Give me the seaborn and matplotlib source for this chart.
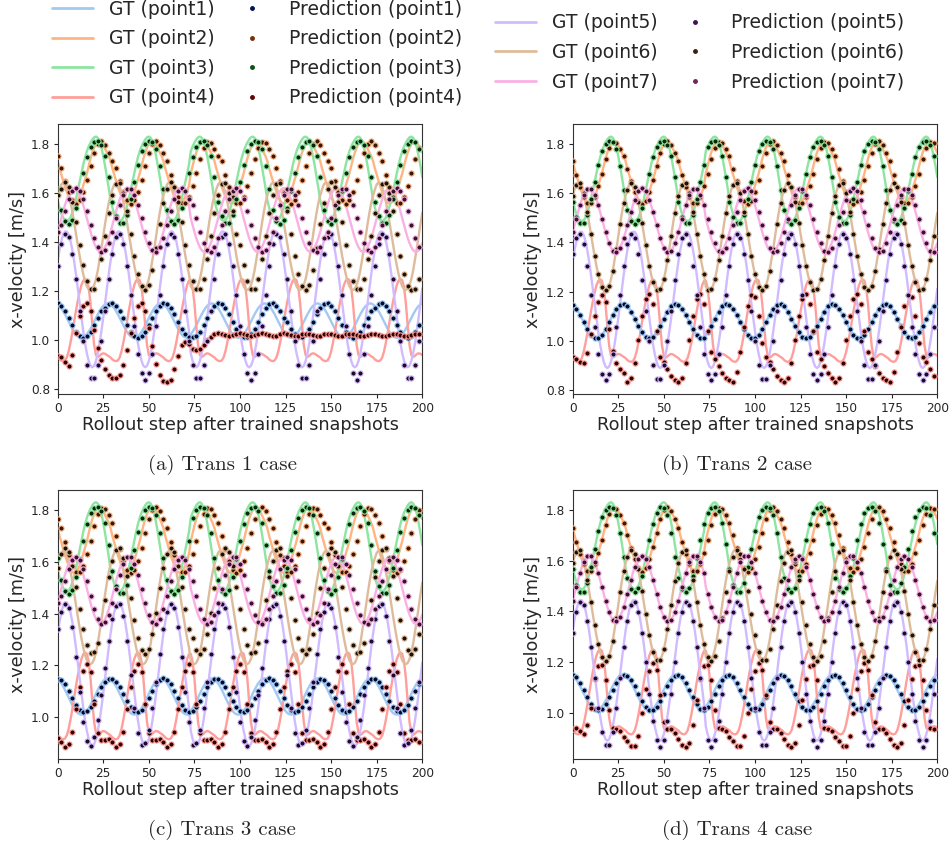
import numpy as np
import pandas as pd
import matplotlib
matplotlib.use("Agg")
import matplotlib.pyplot as plt
import seaborn as sns
from matplotlib.lines import Line2D

# ---------------- data ----------------
series_names = ["point1", "point2", "point3", "point4", "point5", "point6", "point7"]
x_ticks = [0, 25, 50, 75, 100, 125, 150, 175, 200]
panel_captions = ["(a) Trans 1 case", "(b) Trans 2 case", "(c) Trans 3 case", "(d) Trans 4 case"]
x_label = "Rollout step after trained snapshots"
y_label = "x-velocity [m/s]"

# one vortex-shedding cycle of the ground truth (value at each step of the cycle)
gt_period = 28.8
gt_point1 = [1.146, 1.140, 1.131, 1.119, 1.106, 1.091, 1.076, 1.061, 1.047, 1.035, 1.024, 1.016, 1.012, 1.010,
             1.012, 1.016, 1.024, 1.035, 1.047, 1.061, 1.076, 1.091, 1.106, 1.119, 1.131, 1.140, 1.146, 1.150, 1.150]
gt_point2 = [1.73, 1.70, 1.675, 1.65, 1.625, 1.605, 1.585, 1.57, 1.56, 1.557, 1.56, 1.57, 1.585, 1.605, 1.63,
             1.655, 1.68, 1.71, 1.74, 1.765, 1.785, 1.80, 1.808, 1.81, 1.805, 1.795, 1.78, 1.765, 1.75]
gt_point3 = [1.57, 1.54, 1.515, 1.50, 1.49, 1.487, 1.49, 1.50, 1.52, 1.545, 1.575, 1.61, 1.645, 1.68, 1.715,
             1.745, 1.77, 1.79, 1.805, 1.818, 1.827, 1.83, 1.825, 1.81, 1.785, 1.75, 1.71, 1.665, 1.62]
gt_point4 = [0.93, 0.922, 0.917, 0.915, 0.918, 0.93, 0.955, 0.99, 1.03, 1.075, 1.12, 1.16, 1.195, 1.225, 1.243,
             1.25, 1.245, 1.215, 1.15, 1.06, 0.98, 0.94, 0.932, 0.937, 0.944, 0.947, 0.945, 0.94, 0.935]
gt_point5 = [1.323, 1.369, 1.405, 1.431, 1.443, 1.443, 1.431, 1.405, 1.369, 1.323, 1.270, 1.212, 1.153, 1.093,
             1.038, 0.988, 0.947, 0.916, 0.896, 0.890, 0.896, 0.916, 0.947, 0.988, 1.038, 1.093, 1.153, 1.212, 1.270]
gt_point6 = [1.59, 1.615, 1.635, 1.643, 1.64, 1.625, 1.60, 1.565, 1.525, 1.48, 1.435, 1.39, 1.345, 1.305, 1.27,
             1.24, 1.22, 1.208, 1.205, 1.21, 1.225, 1.25, 1.285, 1.33, 1.375, 1.425, 1.475, 1.52, 1.56]
gt_point7 = [1.442, 1.469, 1.497, 1.525, 1.551, 1.574, 1.593, 1.608, 1.617, 1.62, 1.617, 1.608, 1.593, 1.574,
             1.551, 1.525, 1.497, 1.469, 1.442, 1.417, 1.396, 1.379, 1.367, 1.361, 1.361, 1.367, 1.379, 1.396, 1.417]

# predicted cycles that differ from the ground truth
pred_round_point3 = [1.565, 1.53, 1.505, 1.488, 1.478, 1.475, 1.478, 1.49, 1.51, 1.54, 1.575, 1.61, 1.645, 1.68,
                     1.715, 1.745, 1.77, 1.788, 1.80, 1.807, 1.81, 1.81, 1.806, 1.797, 1.78, 1.75, 1.71, 1.665, 1.615]
pred_deep_point5 = [1.304, 1.353, 1.392, 1.420, 1.433, 1.433, 1.420, 1.392, 1.353, 1.304, 1.248, 1.186, 1.121,
                    1.058, 0.998, 0.945, 0.901, 0.867, 0.847, 0.840, 0.847, 0.867, 0.901, 0.945, 0.998, 1.058,
                    1.121, 1.186, 1.248]
pred_b_point4 = [0.84, 0.833, 0.835, 0.85, 0.875, 0.91, 0.955, 1.005, 1.055, 1.10, 1.14, 1.17, 1.187, 1.19, 1.18,
                 1.15, 1.10, 1.04, 0.99, 0.955, 0.935, 0.925, 0.915, 0.90, 0.885, 0.87, 0.858, 0.85, 0.843]
pred_b_point4_head = [0.935, 0.925, 0.915, 0.91, 0.95, 1.03, 1.10, 1.16, 1.185, 1.16, 1.05, 0.96, 0.91, 0.885, 0.87]
pred_c_point1 = [1.150, 1.149, 1.144, 1.137, 1.127, 1.115, 1.102, 1.089, 1.074, 1.061, 1.049, 1.038, 1.029, 1.023,
                 1.020, 1.020, 1.023, 1.029, 1.038, 1.049, 1.061, 1.074, 1.089, 1.102, 1.115, 1.127, 1.137, 1.144, 1.149]
pred_c_point4 = [0.92, 0.905, 0.893, 0.885, 0.885, 0.895, 0.915, 0.945, 0.985, 1.03, 1.075, 1.115, 1.15, 1.18,
                 1.198, 1.205, 1.20, 1.175, 1.12, 1.05, 0.985, 0.94, 0.92, 0.912, 0.91, 0.912, 0.915, 0.918]
pred_c_point5 = [1.339, 1.378, 1.408, 1.428, 1.439, 1.438, 1.422, 1.391, 1.347, 1.293, 1.231, 1.165, 1.099, 1.037,
                 0.983, 0.939, 0.908, 0.892, 0.891, 0.902, 0.922, 0.952, 0.991, 1.035, 1.085, 1.138, 1.192, 1.245, 1.295]
pred_c_point6 = [1.605, 1.629, 1.647, 1.655, 1.652, 1.638, 1.615, 1.582, 1.545, 1.502, 1.460, 1.418, 1.376, 1.339,
                 1.306, 1.278, 1.259, 1.248, 1.245, 1.250, 1.264, 1.287, 1.320, 1.362, 1.404, 1.451, 1.498, 1.540, 1.577]
pred_d_point4 = [0.89, 0.875, 0.868, 0.865, 0.868, 0.88, 0.91, 0.95, 1.0, 1.05, 1.095, 1.135, 1.165, 1.185, 1.195,
                 1.19, 1.17, 1.13, 1.07, 1.01, 0.965, 0.94, 0.935, 0.937, 0.935, 0.93, 0.92, 0.905, 0.895]
pred_d_point4_head = [0.935, 0.94, 0.93, 0.915, 0.95, 1.02]
pred_d_point5 = [1.314, 1.361, 1.399, 1.425, 1.438, 1.438, 1.425, 1.399, 1.361, 1.314, 1.259, 1.199, 1.137, 1.075,
                 1.018, 0.966, 0.924, 0.891, 0.872, 0.865, 0.872, 0.891, 0.924, 0.966, 1.018, 1.075, 1.137, 1.199, 1.259]
# Trans 1, point4: prediction collapses to a nearly steady value (every 2nd step, 0..198)
pred_a_point4 = [0.935, 0.93, 0.91, 0.895, 0.94, 1.03, 1.10, 1.14, 1.15, 1.12,
                 1.04, 0.97, 0.92, 0.885, 0.86, 0.847, 0.845, 0.86, 0.90, 0.96,
                 1.03, 1.09, 1.14, 1.15, 1.12, 1.05, 0.975, 0.905, 0.86, 0.835,
                 0.83, 0.84, 0.885, 0.935, 0.98, 0.995, 0.985, 0.965, 0.96, 0.965,
                 0.98, 1.0, 1.015, 1.025, 1.028, 1.025, 1.02, 1.018, 1.022, 1.027,
                 1.028, 1.025, 1.02, 1.017, 1.02, 1.025, 1.028, 1.026, 1.021, 1.017,
                 1.019, 1.024, 1.028, 1.026, 1.021, 1.017, 1.019, 1.024, 1.027, 1.026,
                 1.021, 1.017, 1.019, 1.024, 1.027, 1.026, 1.022, 1.018, 1.019, 1.024,
                 1.027, 1.026, 1.022, 1.018, 1.019, 1.023, 1.026, 1.025, 1.021, 1.018,
                 1.019, 1.023, 1.026, 1.025, 1.021, 1.018, 1.019, 1.022, 1.025, 1.024]

gt_cycles = [gt_point1, gt_point2, gt_point3, gt_point4, gt_point5, gt_point6, gt_point7]
# per panel and series: (cycle, period in steps, lag in steps, head values)
pred_specs = [
    [(gt_point1, 29.6, 1.0, None), (gt_point2, 29.5, 1.0, None), (pred_round_point3, 28.9, 1.0, None),
     (pred_a_point4, None, None, None), (pred_deep_point5, 29.0, -0.5, None),
     (gt_point6, 29.3, 0.5, None), (gt_point7, 29.4, 0.5, None)],
    [(gt_point1, 28.8, 0.0, None), (gt_point2, 29.0, 0.5, None), (pred_round_point3, 28.8, 0.0, None),
     (pred_b_point4, 28.7, 0.0, pred_b_point4_head), (pred_deep_point5, 28.9, -0.5, None),
     (gt_point6, 28.8, 0.0, None), (gt_point7, 29.0, 0.5, None)],
    [(pred_c_point1, 28.8, 0.5, None), (gt_point2, 29.1, 2.0, None), (pred_round_point3, 28.8, 1.0, None),
     (pred_c_point4, 28.1, 0.5, None), (pred_c_point5, 28.8, 0.0, None),
     (pred_c_point6, 29.2, 1.0, None), (gt_point7, 29.1, 0.5, None)],
    [(gt_point1, 28.8, 1.0, None), (gt_point2, 29.0, 0.0, None), (pred_round_point3, 28.7, 0.0, None),
     (pred_d_point4, 28.9, 1.5, pred_d_point4_head), (pred_d_point5, 28.8, 0.0, None),
     (gt_point6, 28.9, 0.0, None), (gt_point7, 28.8, 0.0, None)],
]

gt_steps = np.arange(0, 201)
pred_steps = np.arange(0, 200, 2)


def repeat_cycle(cycle, period, lag, steps):
    cyc = np.asarray(cycle, dtype=float)
    idx = np.round((steps - lag) * len(cyc) / period).astype(int) % len(cyc)
    return cyc[idx]


def pred_values(spec):
    cycle, period, lag, head = spec
    if period is None:
        return np.asarray(cycle, dtype=float)
    vals = repeat_cycle(cycle, period, lag, pred_steps)
    if head is not None:
        vals[:len(head)] = head
    return vals


# ---------------- style ----------------
sns.set_theme(style="ticks")
plt.rcParams["font.family"] = ["DejaVu Sans"]
pastel = sns.color_palette("pastel", 7)
dark_base = sns.color_palette("dark", 7)
dark = [tuple(0.35 * np.array(c)) for c in dark_base]
legend_dark = [tuple(0.7 * np.array(c)) for c in dark_base]

fig = plt.figure(figsize=(9.52, 8.46), dpi=100)
W, H = 952.0, 846.0
axes_px = [(57.7, 124.3, 364.6, 270.0), (572.7, 124.3, 364.6, 270.0),
           (57.7, 490.0, 364.6, 269.3), (572.7, 490.0, 364.6, 269.3)]
caption_px = [(222, 465), (737, 465), (222, 830), (737, 830)]

for p, (l, t, w, h) in enumerate(axes_px):
    ax = fig.add_axes([l / W, 1 - (t + h) / H, w / W, h / H])
    for i, name in enumerate(series_names):
        gvals = repeat_cycle(gt_cycles[i], gt_period, 0.0, gt_steps)
        sns.lineplot(x=gt_steps, y=gvals, color=pastel[i], linewidth=1.7, ax=ax, sort=False)
    for i, name in enumerate(series_names):
        pvals = pred_values(pred_specs[p][i])
        sns.scatterplot(x=pred_steps, y=pvals, color=dark[i], edgecolor=pastel[i], s=14,
                        linewidth=0.8, ax=ax, zorder=3)
    ax.set_xlim(0, 200)
    ax.set_xticks(x_ticks)
    ax.set_xlabel(x_label, fontsize=12.7, labelpad=1)
    ax.set_ylabel(y_label, fontsize=12.7, labelpad=3)
    ax.tick_params(labelsize=8.7, length=3, pad=2.5, width=0.8)
    for s in ax.spines.values():
        s.set_linewidth(0.8)
        s.set_color("#333333")
    cx, cy = caption_px[p]
    fig.text(cx / W, 1 - cy / H, panel_captions[p], ha="center", va="center",
             fontsize=15, family=["cmr10", "DejaVu Serif"])

# ---------------- legends ----------------
gt_handles = [Line2D([], [], color=pastel[i], lw=2) for i in range(7)]
pr_handles = [Line2D([], [], ls="", marker="o", markersize=2.5, color=legend_dark[i]) for i in range(7)]
gt_labels = [f"GT ({n})" for n in series_names]
pr_labels = [f"Prediction ({n})" for n in series_names]
leg_kw = dict(ncol=2, frameon=False, fontsize=13.5, handlelength=2.2, handletextpad=0.85,
              columnspacing=0.9, labelspacing=0.56, loc="center")
fig.legend(gt_handles[:4] + pr_handles[:4], gt_labels[:4] + pr_labels[:4],
           bbox_to_anchor=(257 / W, 1 - 53.5 / H), **leg_kw)
fig.legend(gt_handles[4:] + pr_handles[4:], gt_labels[4:] + pr_labels[4:],
           bbox_to_anchor=(699.5 / W, 1 - 52.5 / H), **leg_kw)

fig.savefig("out.png", dpi=100)
